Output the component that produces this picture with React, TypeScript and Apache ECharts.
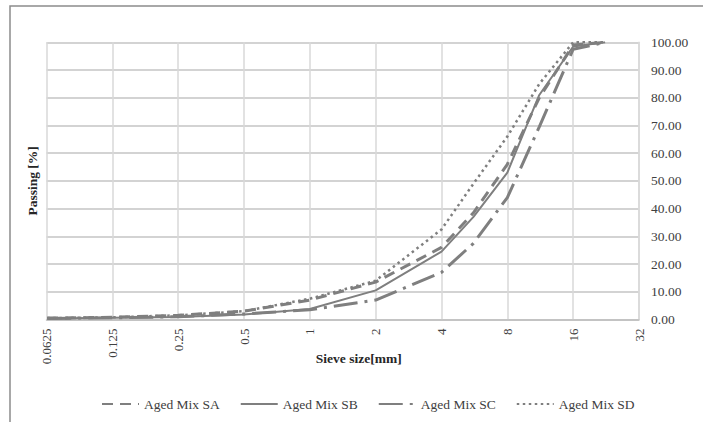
import React, { useEffect, useRef } from "react";
import * as echarts from "echarts";

const sieveSizes = [0.063, 0.125, 0.25, 0.5, 1, 2, 4, 5.6, 8, 11.2, 16, 22.4];
const mixSA = [0.5, 0.8, 1.5, 3.0, 7.0, 13.5, 26.0, 38.5, 56.0, 80.0, 99.0, 100];
const mixSB = [0.4, 0.6, 0.9, 1.8, 3.8, 10.5, 24.5, 37.0, 53.0, 81.0, 98.5, 100];
const mixSC = [0.4, 0.6, 1.0, 2.0, 3.5, 7.0, 17.0, 27.5, 44.0, 69.5, 97.5, 100];
const mixSD = [0.5, 0.8, 1.5, 3.0, 7.5, 14.0, 32.5, 49.0, 66.0, 85.0, 100, 100];
const seriesNames = ["Aged Mix SA", "Aged Mix SB", "Aged Mix SC", "Aged Mix SD"];
const xTickLabels = ["0.0625", "0.125", "0.25", "0.5", "1", "2", "4", "8", "16", "32"];

const FONT = "Liberation Serif";
const GRAY = "#7f7f7f";

export default function App() {
  const ref = useRef<HTMLDivElement>(null);
  useEffect(() => {
    if (!ref.current) return;
    const chart = echarts.init(ref.current, null, { renderer: "svg" });
    const pair = (ys: number[]) => sieveSizes.map((x, i) => [x, ys[i]]);
    const lineStyles: any[] = [
      { width: 3, type: [11, 7], cap: "butt" },
      { width: 2, type: "solid" },
      { width: 3, type: [24, 7, 3, 7], cap: "butt" },
      { width: 2.5, type: [2.5, 3.5], cap: "butt" },
    ];
    const datasets = [mixSA, mixSB, mixSC, mixSD];
    chart.setOption({
      animation: false,
      textStyle: { fontFamily: FONT },
      graphic: [
        {
          type: "rect",
          shape: { x: 10, y: 6, width: 720, height: 440 },
          style: { fill: "none", stroke: "#8c8c8c", lineWidth: 1.5 },
          silent: true,
        },
      ],
      grid: { left: 46.5, right: 64, top: 42.3, bottom: 102.5 },
      legend: {
        left: 96,
        top: 392,
        itemWidth: 37,
        itemHeight: 14,
        itemGap: 20,
        itemStyle: { opacity: 0 },
        data: seriesNames,
        textStyle: { fontFamily: FONT, fontSize: 13.5, color: "#404040" },
      },
      xAxis: {
        type: "log",
        logBase: 2,
        min: 0.0625,
        max: 32,
        splitNumber: 9,
        name: "Sieve size[mm]",
        nameLocation: "middle",
        nameGap: 32,
        nameMoveOverlap: false,
        nameTextStyle: {
          fontFamily: FONT,
          fontSize: 13.5,
          fontWeight: "bold",
          color: "#262626",
          padding: [0, 0, 0, 32],
        },
        axisLine: { show: true, lineStyle: { color: "#bfbfbf", width: 1.5 } },
        axisTick: { show: false },
        axisLabel: {
          rotate: 90,
          margin: 9,
          fontFamily: FONT,
          fontSize: 13,
          color: "#404040",
          formatter: (v: number) => {
            const idx = Math.round(Math.log2(v)) + 4;
            return xTickLabels[idx] ?? "";
          },
        },
        splitLine: { show: true, lineStyle: { color: "#d9d9d9", width: 1.5 } },
      },
      yAxis: [
        {
          type: "value",
          position: "right",
          min: 0,
          max: 100,
          interval: 10,
          axisLine: { show: true, lineStyle: { color: "#d9d9d9", width: 1.5 } },
          axisTick: { show: false },
          axisLabel: {
            margin: 12,
            fontFamily: FONT,
            fontSize: 13.5,
            color: "#404040",
            formatter: (v: number) => v.toFixed(2),
          },
          splitLine: { show: true, lineStyle: { color: "#c4c4c4", width: 1.5 } },
        },
        {
          type: "value",
          position: "left",
          min: 0,
          max: 100,
          interval: 10,
          name: "Passing [%]",
          nameLocation: "middle",
          nameGap: 7,
          nameMoveOverlap: false,
          nameTextStyle: { fontFamily: FONT, fontSize: 13.5, fontWeight: "bold", color: "#262626" },
          axisLine: { show: false },
          axisTick: { show: false },
          axisLabel: { show: false },
          splitLine: { show: false },
        },
      ],
      series: seriesNames.map((name, i) => ({
        name,
        type: "line",
        yAxisIndex: 0,
        data: pair(datasets[i]),
        showSymbol: false,
        symbol: "none",
        smooth: false,
        lineStyle: { color: GRAY, ...lineStyles[i] },
        itemStyle: { color: GRAY },
        z: 3 + i,
      })),
    });
    return () => chart.dispose();
  }, []);
  return (
    <div
      ref={ref}
      style={{ position: "fixed", left: 0, top: 0, width: 703, height: 422, background: "#fff" }}
    />
  );
}
